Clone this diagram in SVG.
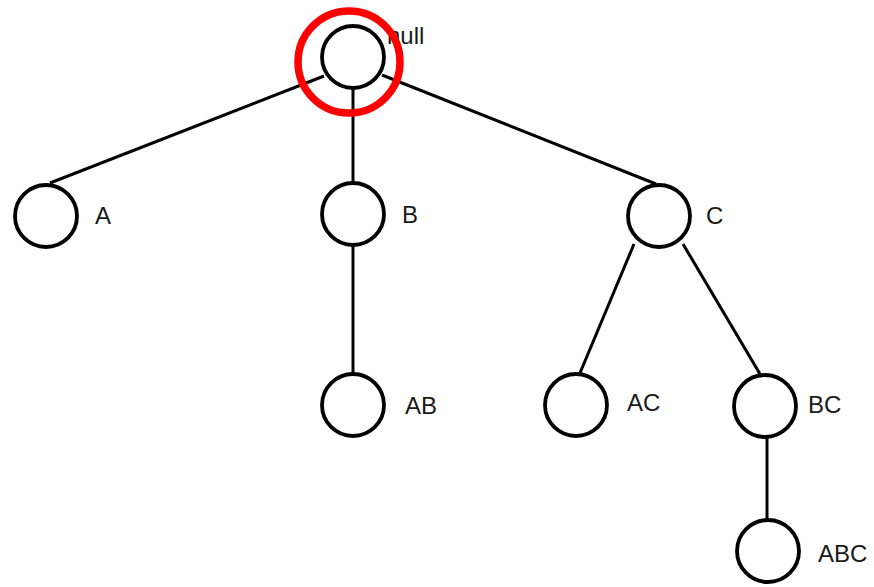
<svg xmlns="http://www.w3.org/2000/svg" width="874" height="587" viewBox="0 0 874 587">
  <style>
    .edge { stroke: #000; stroke-width: 3; fill: none; }
    .node { fill: #fff; stroke: #000; stroke-width: 3.8; }
    .lbl { font-family: "Liberation Sans", Arial, sans-serif; font-size: 24px; fill: #1a1a1a; }
    .mark { fill: none; stroke: #f00; stroke-width: 7.5; }
  </style>
  <rect width="874" height="587" fill="#fff"/>
  <g id="connectors">
    <line class="edge" x1="324" y1="76" x2="50" y2="183"/>
    <line class="edge" x1="353" y1="89" x2="353" y2="183"/>
    <line class="edge" x1="382" y1="75" x2="656" y2="184"/>
    <line class="edge" x1="353" y1="246" x2="353" y2="374"/>
    <line class="edge" x1="634" y1="244" x2="580" y2="373"/>
    <line class="edge" x1="683" y1="244" x2="760" y2="374"/>
    <line class="edge" x1="767" y1="438" x2="767" y2="519"/>
  </g>
  <g id="node-null">
    <circle class="node" cx="353" cy="57" r="31"/>
    <text class="lbl" x="387" y="44">null</text>
  </g>
  <g id="node-A">
    <circle class="node" cx="46" cy="216" r="31"/>
    <text class="lbl" x="95" y="224">A</text>
  </g>
  <g id="node-B">
    <circle class="node" cx="353" cy="214" r="31"/>
    <text class="lbl" x="402" y="223">B</text>
  </g>
  <g id="node-C">
    <circle class="node" cx="659" cy="216" r="31"/>
    <text class="lbl" x="706" y="224">C</text>
  </g>
  <g id="node-AB">
    <circle class="node" cx="353" cy="405" r="31"/>
    <text class="lbl" x="405" y="414">AB</text>
  </g>
  <g id="node-AC">
    <circle class="node" cx="576" cy="405" r="31"/>
    <text class="lbl" x="627" y="411">AC</text>
  </g>
  <g id="node-BC">
    <circle class="node" cx="765" cy="406" r="31"/>
    <text class="lbl" x="808" y="413">BC</text>
  </g>
  <g id="node-ABC">
    <circle class="node" cx="768" cy="551" r="31"/>
    <text class="lbl" x="818" y="562">ABC</text>
  </g>
  <g id="highlight">
    <circle class="mark" cx="349" cy="62" r="51"/>
  </g>
</svg>
